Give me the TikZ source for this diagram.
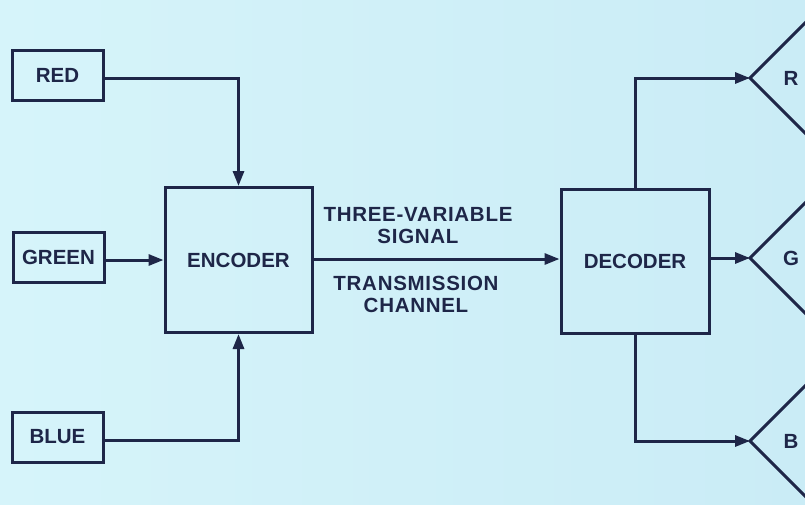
\documentclass[tikz,border=0pt]{standalone}
\usepackage{fontspec}
\setmainfont{Liberation Sans}
\newfontfamily\spacedfont[LetterSpace=3.5]{Liberation Sans}
\usetikzlibrary{arrows.meta}
\definecolor{bgL}{RGB}{214,244,250}
\definecolor{bgR}{RGB}{202,236,246}
\definecolor{ink}{RGB}{30,38,72}
\begin{document}
\begin{tikzpicture}[x=1pt,y=-1pt,
  font=\fontsize{20.5}{22}\selectfont\bfseries,
  box/.style={draw=ink, line width=3pt, text=ink, inner sep=0pt},
  smallbox/.style={box, minimum width=91pt, minimum height=50pt},
  bigbox/.style={box, minimum width=147pt, minimum height=145pt},
  conn/.style={draw=ink, line width=3pt},
  arr/.style={conn, -{Triangle[length=15pt,width=11pt]}},
  lbl/.style={text=ink, align=center, inner sep=0pt}]
\useasboundingbox (0,0) rectangle (805,504);
\shade[left color=bgL, right color=bgR] (0,0) rectangle (805,504);
\clip (0,0) rectangle (805,504);
% source boxes
\node[smallbox] (red)   at (57.5,75)  {RED};
\node[smallbox] (green) at (58.5,257) {GREEN};
\node[smallbox] (blue)  at (57.5,437) {BLUE};
% encoder / decoder
\node[bigbox] (enc) at (238.5,260) {ENCODER};
\node[bigbox, minimum width=148pt, minimum height=144pt] (dec) at (635,261) {DECODER};
% receiver apexes
\coordinate (rR) at (750,78);
\coordinate (rG) at (750,258);
\coordinate (rB) at (750,441);
% inputs
\draw[arr] ([yshift=-3pt]red.east) -| (enc.north);
\draw[arr] ([yshift=-3pt]green.east) -- ([yshift=-3pt]green.east -| enc.west);
\draw[arr] ([yshift=-3pt]blue.east) -| (enc.south);
% channel
\draw[arr] ([yshift=1pt]enc.east) -- ([yshift=1pt]enc.east -| dec.west);
\node[lbl, font=\fontsize{20.5}{22}\spacedfont\bfseries] (sig) at (418,226) {THREE-VARIABLE\\SIGNAL};
\node[lbl, font=\fontsize{20.5}{22}\spacedfont\bfseries] (chan) at (416,294) {TRANSMISSION\\CHANNEL};
% outputs
\draw[arr] (dec.north) |- (rR);
\draw[arr] (dec.east |- rG) -- (rG);
\draw[arr] (dec.south) |- (rB);
% receivers
\draw[conn, line join=miter] (rR) ++(62,-62) -- (rR) -- ++(62,62);
\draw[conn, line join=miter] (rG) ++(62,-62) -- (rG) -- ++(62,62);
\draw[conn, line join=miter] (rB) ++(62,-62) -- (rB) -- ++(62,62);
\node[lbl] (lR) at (791,78)  {R};
\node[lbl] (lG) at (791,258) {G};
\node[lbl] (lB) at (791,441) {B};
\end{tikzpicture}
\end{document}
